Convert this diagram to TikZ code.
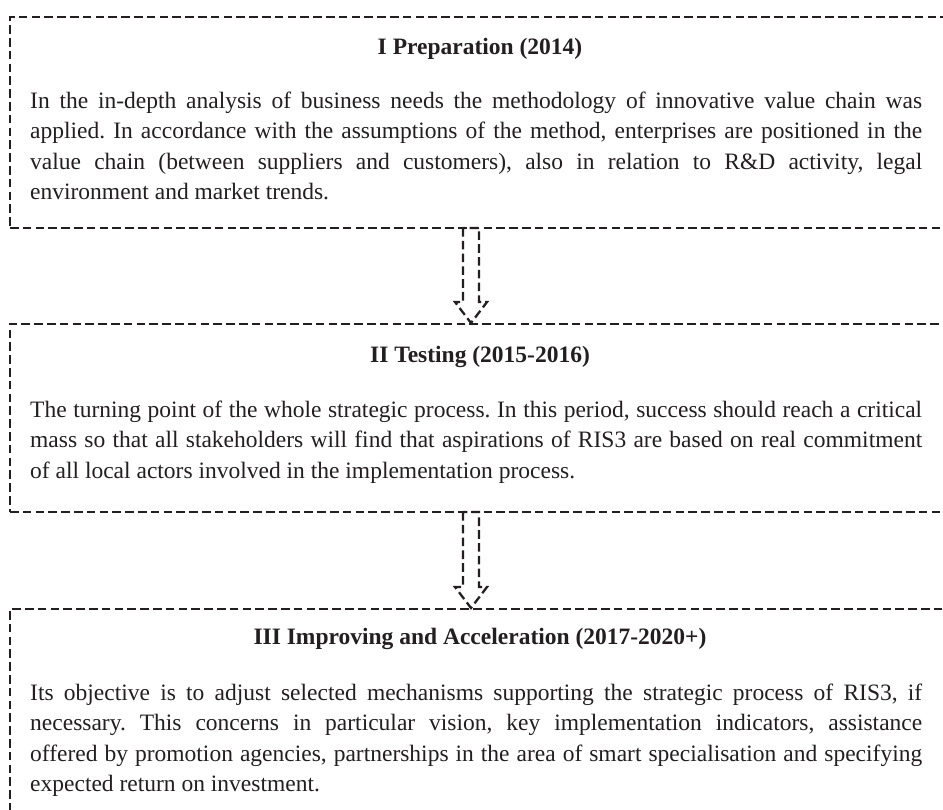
\documentclass[tikz,border=0pt]{standalone}
\usepackage{fontspec}
\setmainfont{Liberation Serif}
\usetikzlibrary{calc}
\definecolor{ink}{HTML}{231F20}
\frenchspacing
\tikzset{
  box/.style={draw=ink, line width=2.3pt, dash pattern=on 8.6pt off 4.2pt, inner sep=0pt, outer sep=0pt, anchor=north west},
  arrowline/.style={draw=ink, line width=2.3pt, dash pattern=on 8.6pt off 4.2pt, line join=miter},
  titletext/.style={text=ink, inner sep=0pt, anchor=base, font=\fontsize{23.5}{30.5}\selectfont\bfseries},
  bodytext/.style={text=ink, inner sep=0pt, anchor=north west, text width=892pt, align=justify, font=\fontsize{23.5}{30.5}\selectfont\frenchspacing}
}
\begin{document}
\begin{tikzpicture}[x=1pt,y=-1pt]
\useasboundingbox (0,0) rectangle (943,810);
\fill[white] (0,0) rectangle (943,810);
% boxes
\node[box, minimum width=940pt, minimum height=211pt] (b1) at (10,17) {};
\node[box, minimum width=940pt, minimum height=188pt] (b2) at (10,324) {};
\node[box, minimum width=940pt, minimum height=230pt] (b3) at (10,609) {};
% titles
\node[titletext] (t1) at (480,54.5) {I Preparation (2014)};
\node[titletext] (t2) at (480,362.5) {II Testing (2015-2016)};
\node[titletext] (t3) at (480,644.5) {III Improving and Acceleration (2017-2020+)};
% bodies
\node[bodytext] (p1) at (30,86.65) {\strut In the in-depth analysis of business needs the methodology of innovative value chain was\linebreak applied. In accordance with the assumptions of the method, enterprises are positioned in the\linebreak value chain (between suppliers and customers), also in relation to R\&D activity, legal\linebreak environment and market trends.};
\node[bodytext] (p2) at (30,395.65) {\strut The turning point of the whole strategic process. In this period, success should reach a critical\linebreak mass so that all stakeholders will find that aspirations of RIS3 are based on real commitment\linebreak of all local actors involved in the implementation process.};
\node[bodytext] (p3) at (30,678.65) {\strut Its objective is to adjust selected mechanisms supporting the strategic process of RIS3, if\linebreak necessary. This concerns in particular vision, key implementation indicators, assistance\linebreak offered by promotion agencies, partnerships in the area of smart specialisation and specifying\linebreak expected return on investment.};
% arrows
\coordinate (a1s) at ($(b1.south west)+(461,0)$);
\coordinate (a1e) at ($(b2.north west)+(461,-1)$);
\coordinate (a2s) at ($(b2.south west)+(461,0)$);
\coordinate (a2e) at ($(b3.north west)+(461,-1)$);
\draw[arrowline] ($(a1s)+(-8,0)$) -- ($(a1e)+(-8,-21)$) -- ($(a1e)+(-16,-21)$) -- (a1e) -- ($(a1e)+(16,-21)$) -- ($(a1e)+(8,-21)$) -- ($(a1s)+(8,0)$) -- cycle;
\draw[arrowline] ($(a2s)+(-8,0)$) -- ($(a2e)+(-8,-21)$) -- ($(a2e)+(-16,-21)$) -- (a2e) -- ($(a2e)+(16,-21)$) -- ($(a2e)+(8,-21)$) -- ($(a2s)+(8,0)$) -- cycle;
\end{tikzpicture}
\end{document}
